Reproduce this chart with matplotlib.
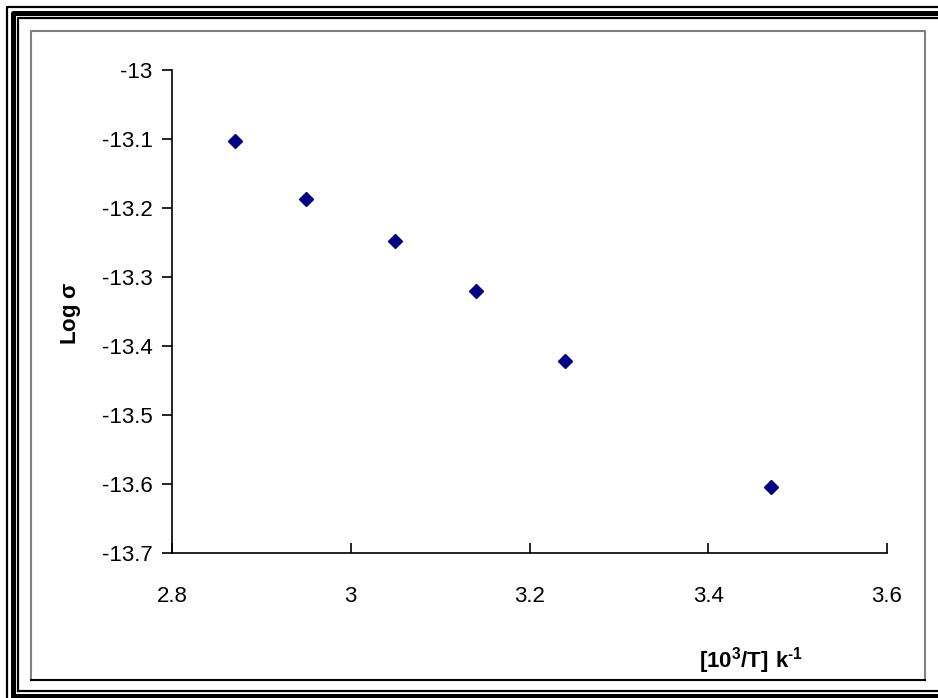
import matplotlib
matplotlib.use("Agg")
import matplotlib.pyplot as plt
from matplotlib.lines import Line2D

plt.rcParams['font.family'] = ['Liberation Sans', 'DejaVu Sans']
plt.rcParams['axes.unicode_minus'] = False
plt.rcParams['mathtext.fontset'] = 'custom'
# only the axis labels use mathtext, and both are bold
plt.rcParams['mathtext.rm'] = 'Liberation Sans:bold'
plt.rcParams['mathtext.bf'] = 'Liberation Sans:bold'

# data
inv_temp = [2.87, 2.95, 3.05, 3.14, 3.24, 3.47]
log_sigma = [-13.103, -13.187, -13.248, -13.320, -13.422, -13.604]

x_ticks = [2.8, 3.0, 3.2, 3.4, 3.6]
x_tick_labels = ['2.8', '3', '3.2', '3.4', '3.6']
y_ticks = [-13.0, -13.1, -13.2, -13.3, -13.4, -13.5, -13.6, -13.7]
y_tick_labels = ['-13', '-13.1', '-13.2', '-13.3', '-13.4', '-13.5', '-13.6', '-13.7']

W, H = 938, 698
fig = plt.figure(figsize=(W / 100, H / 100), dpi=100)


def px_line(xs, ys, **kw):
    # helper: draw a line given in image pixel coords (y from top)
    fig.add_artist(Line2D([x / W for x in xs], [1 - y / H for y in ys],
                          transform=fig.transFigure, **kw))


# compound outer border (cut at right and bottom)
px_line([7, 7, W + 5], [H + 5, 7, 7], color='black', lw=1.6)
px_line([12.5, 12.5, W + 5], [H + 5, 12.5, 12.5], color='black', lw=3.6)
px_line([17.5, 17.5, W + 5], [690.5, 17.5, 17.5], color='black', lw=1.6)
px_line([17.5, W + 5], [690.5, 690.5], color='black', lw=1.6)
px_line([12.5, W + 5], [696, 696], color='black', lw=3.6)

# inner chart area frame
px_line([31, 31, 925, 925], [680, 31, 31, 680], color='#808080', lw=1.5)
px_line([31, 925], [680, 680], color='black', lw=1.5)

ax = fig.add_axes([172 / W, 1 - 553 / H, (887 - 172) / W, (553 - 70) / H])
ax.plot(inv_temp, log_sigma, linestyle='none', marker='D',
        markersize=7, color='#000080')

ax.set_xlim(2.8, 3.6)
ax.set_ylim(-13.7, -13.0)
ax.set_xticks(x_ticks)
ax.set_xticklabels(x_tick_labels)
ax.set_yticks(y_ticks)
ax.set_yticklabels(y_tick_labels)

for side in ['top', 'right']:
    ax.spines[side].set_visible(False)
for side in ['left', 'bottom']:
    ax.spines[side].set_linewidth(1.2)

ax.tick_params(axis='y', direction='out', length=7, width=1.2,
               labelsize=16, pad=7)
ax.tick_params(axis='x', direction='in', length=7, width=1.2,
               labelsize=16, pad=24)

ax.set_ylabel(r'Log $\mathbf{\sigma}$', fontsize=16, fontweight='bold')
ax.yaxis.set_label_coords(-0.124, 0.497)
ax.set_xlabel(r'$\mathbf{[10^3/T]\ k^{\text{-}1}}$', fontsize=16)
ax.xaxis.set_label_coords(0.81, -0.19)

fig.savefig('out.png', dpi=100)
